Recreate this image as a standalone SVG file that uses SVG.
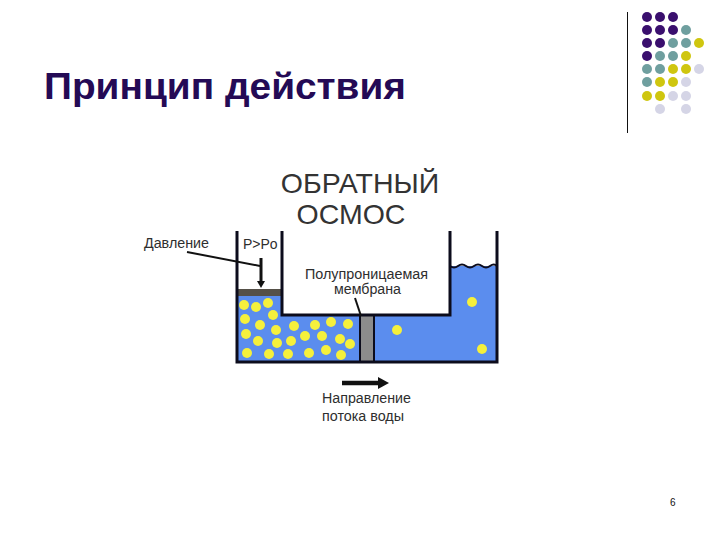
<svg xmlns="http://www.w3.org/2000/svg" width="720" height="540" viewBox="0 0 720 540">
<style>
text{font-family:"Liberation Sans",Arial,sans-serif;fill:#2e2e2e}
.lbl{font-size:14px}
.w{fill:none;stroke:#0c0c1c;stroke-width:3}
.y{fill:#f5f03c}
.P{fill:#3a0f6e}.T{fill:#6f9f9f}.Y{fill:#cfc60f}.L{fill:#d5d5e6}
</style>
<defs>
<marker id="ah" markerUnits="userSpaceOnUse" markerWidth="8" markerHeight="8" refX="1" refY="4" orient="auto"><path d="M0 0L7 4L0 8Z" fill="#111"/></marker>
<marker id="ah2" markerUnits="userSpaceOnUse" markerWidth="12" markerHeight="12" refX="1" refY="6" orient="auto"><path d="M0 0L11 6L0 12Z" fill="#111"/></marker>
</defs>
<rect width="720" height="540" fill="#fff"/>
<text id="title" x="44" y="99" font-size="37" font-weight="700" style="fill:#240a55" textLength="362" lengthAdjust="spacingAndGlyphs">Принцип действия</text>
<line x1="627.5" y1="12" x2="627.5" y2="133" stroke="#111" stroke-width="1"/>
<g id="dots">
<circle class="P" cx="647" cy="17" r="5"/><circle class="P" cx="660" cy="17" r="5"/><circle class="P" cx="673" cy="17" r="5"/>
<circle class="P" cx="647" cy="30" r="5"/><circle class="P" cx="660" cy="30" r="5"/><circle class="P" cx="673" cy="30" r="5"/><circle class="T" cx="686" cy="30" r="5"/>
<circle class="P" cx="647" cy="43" r="5"/><circle class="P" cx="660" cy="43" r="5"/><circle class="T" cx="673" cy="43" r="5"/><circle class="T" cx="686" cy="43" r="5"/><circle class="Y" cx="699" cy="43" r="5"/>
<circle class="P" cx="647" cy="56" r="5"/><circle class="T" cx="660" cy="56" r="5"/><circle class="T" cx="673" cy="56" r="5"/><circle class="Y" cx="686" cy="56" r="5"/>
<circle class="T" cx="647" cy="69" r="5"/><circle class="T" cx="660" cy="69" r="5"/><circle class="Y" cx="673" cy="69" r="5"/><circle class="Y" cx="686" cy="69" r="5"/><circle class="L" cx="699" cy="69" r="5"/>
<circle class="T" cx="647" cy="82" r="5"/><circle class="Y" cx="660" cy="82" r="5"/><circle class="Y" cx="673" cy="82" r="5"/><circle class="L" cx="686" cy="82" r="5"/>
<circle class="Y" cx="647" cy="96" r="5"/><circle class="Y" cx="660" cy="96" r="5"/><circle class="L" cx="673" cy="96" r="5"/><circle class="L" cx="686" cy="96" r="5"/>
<circle class="L" cx="660" cy="109" r="5"/><circle class="L" cx="686" cy="109" r="5"/>
</g>
<text id="heading" font-size="28.5" text-anchor="middle" style="fill:#333"><tspan x="360" y="193">ОБРАТНЫЙ</tspan><tspan x="351" y="224">ОСМОС</tspan></text>
<g id="vessel">
<path d="M237 296H282V315H450V266H497V362H237Z" fill="#5b8dee"/>
<rect x="360" y="315" width="14" height="47" fill="#8c8c8c"/>
<rect x="237" y="289" width="45" height="7" fill="#555048"/>
<path class="w" d="M237 231V362H497V231"/>
<path class="w" d="M282 231V315H450V231"/>
<path d="M360 315V362M374 315V362" fill="none" stroke="#0c0c1c" stroke-width="2"/>
<path d="M450 266q4 3 8 0t8 0t8 0t8 0t8 0t7 0" fill="none" stroke="#0c0c1c" stroke-width="2"/>
</g>
<g id="particles">
<circle class="y" cx="244" cy="305" r="5"/><circle class="y" cx="256" cy="307" r="5"/><circle class="y" cx="268" cy="303" r="5"/><circle class="y" cx="273" cy="315" r="5"/><circle class="y" cx="245" cy="319" r="5"/><circle class="y" cx="260" cy="325" r="5"/><circle class="y" cx="276" cy="330" r="5"/><circle class="y" cx="294" cy="326" r="5"/><circle class="y" cx="315" cy="325" r="5"/><circle class="y" cx="331" cy="322" r="5"/><circle class="y" cx="348" cy="324" r="5"/><circle class="y" cx="246" cy="334" r="5"/><circle class="y" cx="258" cy="341" r="5"/><circle class="y" cx="277" cy="343" r="5"/><circle class="y" cx="291" cy="341" r="5"/><circle class="y" cx="305" cy="336" r="5"/><circle class="y" cx="322" cy="336" r="5"/><circle class="y" cx="340" cy="339" r="5"/><circle class="y" cx="350" cy="344" r="5"/><circle class="y" cx="247" cy="353" r="5"/><circle class="y" cx="269" cy="354" r="5"/><circle class="y" cx="288" cy="354" r="5"/><circle class="y" cx="309" cy="353" r="5"/><circle class="y" cx="326" cy="350" r="5"/><circle class="y" cx="341" cy="355" r="5"/><circle class="y" cx="472" cy="302" r="5"/><circle class="y" cx="397" cy="330" r="5"/><circle class="y" cx="482" cy="349" r="5"/>
</g>
<g id="connectors" fill="none" stroke="#111">
<path d="M187 252L260 266" stroke-width="2"/>
<path d="M261 258V282" stroke-width="3" marker-end="url(#ah)"/>
<path d="M355 298L361 316" stroke-width="2"/>
<path d="M342 383H379" stroke-width="4.5" marker-end="url(#ah2)"/>
</g>
<text class="lbl" x="144" y="248" textLength="65" lengthAdjust="spacingAndGlyphs">Давление</text>
<text class="lbl" x="243" y="249">P&gt;Po</text>
<text class="lbl" x="305" y="279" textLength="123" lengthAdjust="spacingAndGlyphs">Полупроницаемая</text>
<text class="lbl" x="334" y="294" textLength="67" lengthAdjust="spacingAndGlyphs">мембрана</text>
<text class="lbl" x="322" y="403" textLength="89" lengthAdjust="spacingAndGlyphs">Направление</text>
<text class="lbl" x="322" y="421" textLength="82" lengthAdjust="spacingAndGlyphs">потока воды</text>
<text x="670" y="506" font-size="10" style="fill:#111">6</text>
</svg>
